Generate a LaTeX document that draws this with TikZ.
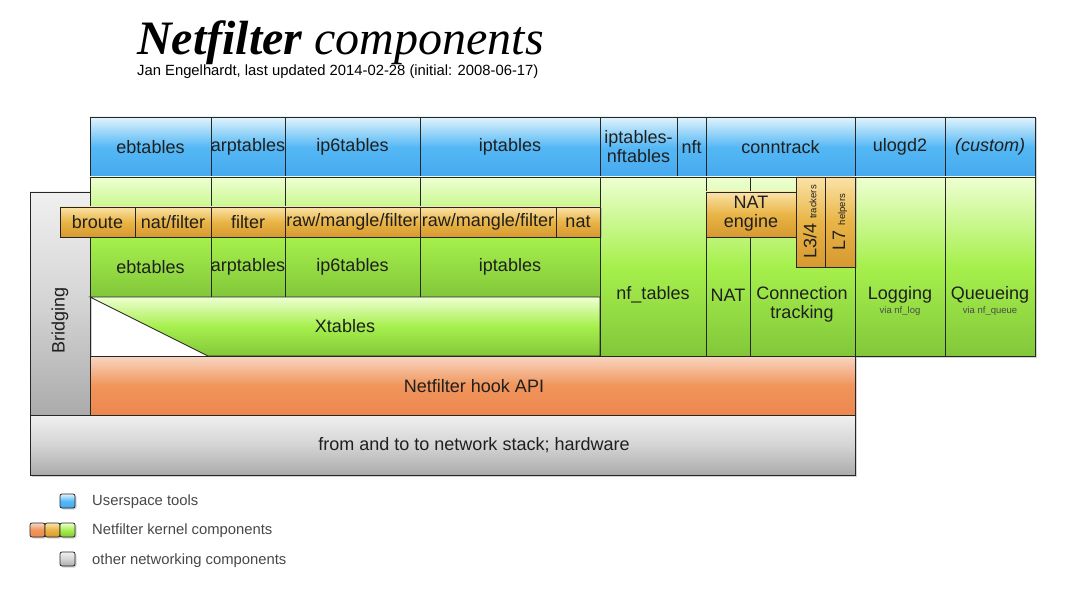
\documentclass[tikz,border=0pt]{standalone}
\usepackage{fontspec}
\setmainfont{Liberation Sans}
\newfontfamily\titlefont{Liberation Serif}
\usetikzlibrary{shadows}

\definecolor{blueTop}{HTML}{E2F4FD}
\definecolor{blueMid}{HTML}{55B8F5}
\definecolor{blueBot}{HTML}{46A9EE}
\definecolor{greenTop}{HTML}{EEFFD2}
\definecolor{greenMid}{HTML}{A6F04C}
\definecolor{greenBot}{HTML}{82C73A}
\definecolor{orangeTop}{HTML}{FAE3A8}
\definecolor{orangeMid}{HTML}{E9B445}
\definecolor{orangeBot}{HTML}{D69930}
\definecolor{redTop}{HTML}{F8D6C2}
\definecolor{redMid}{HTML}{F0955B}
\definecolor{redBot}{HTML}{EC8750}
\definecolor{grayTop}{HTML}{F0F0F0}
\definecolor{grayMid}{HTML}{D4D4D4}
\definecolor{grayBot}{HTML}{ABABAB}

\begin{document}
\begin{tikzpicture}[x=1pt,y=-1pt]
  \tikzstyle{cell} = [draw=black!85, line width=0.8pt, drop shadow={shadow xshift=1.5pt, shadow yshift=-1.5pt, opacity=.35}]
  \tikzstyle{user} = [cell, top color=blueTop, bottom color=blueBot, middle color=blueMid]
  \tikzstyle{kernel} = [cell, top color=greenTop, bottom color=greenBot, middle color=greenMid]
  \tikzstyle{table} = [cell, top color=orangeTop, bottom color=orangeBot, middle color=orangeMid]
  \tikzstyle{hook} = [cell, top color=redTop, bottom color=redBot, middle color=redMid]
  \tikzstyle{other} = [cell, top color=grayTop, bottom color=grayBot, middle color=grayMid]
  \tikzstyle{lbl} = [font=\fontsize{18}{19}\selectfont, text=black!88, align=center, inner sep=0pt]
  \tikzstyle{tiny} = [font=\fontsize{9.5}{10}\selectfont, text=black!70, inner sep=0pt]
  \tikzstyle{legend} = [font=\fontsize{14.8}{16}\selectfont, text=black!72, anchor=west, inner sep=0pt]

  \useasboundingbox (0,0) rectangle (1066,596);

  % title
  \node[anchor=base west, inner sep=0pt] (title) at (137,55)
    {\titlefont\fontsize{48}{50}\selectfont\itshape\bfseries Netfilter \mdseries components};
  \node[anchor=base west, inner sep=0pt, font=\fontsize{14.8}{16}\selectfont] (subtitle) at (137,76)
    {Jan Engelhardt, last updated 2014-02-28 (initial: 2008-06-17)};

  % bridging
  \draw[other] (30,192) rectangle (90,415);
  \node[lbl, rotate=90] (bridging) at (60,320) {Bridging};

  % userspace tools
  \foreach \xa/\xb/\name [count=\i] in {90/211/ebtables, 211/285/arptables, 285/420/ip6tables,
      420/600/iptables, 600/677/{iptables-\\nftables}, 677/706/nft, 706/855/conntrack,
      855/945/ulogd2, 945/1035/{\itshape (custom)}} {
    \draw[user] (\xa,117) rectangle (\xb,177);
    \node[lbl] (tool-\i) at ({(\xa+\xb)/2},147) {\name};
  }

  % xtables front ends
  \foreach \xa/\xb/\name [count=\i] in {90/211/ebtables, 211/285/arptables, 285/420/ip6tables, 420/600/iptables} {
    \draw[kernel] (\xa,177) rectangle (\xb,297);
    \node[lbl] (xt-\i) at ({(\xa+\xb)/2},267) {\name};
  }
  \draw[kernel] (90,297) -- (600,297) -- (600,356) -- (208,356) -- cycle;
  \node[lbl] (xtables) at (345,326) {Xtables};

  % nf_tables
  \draw[kernel] (600,177) rectangle (706,356);
  \node[lbl] (nftables) at (653,295) {nf\_tables};

  % conntrack
  \draw[kernel] (706,177) rectangle (855,356);
  \draw[black!85, line width=0.8pt] (750,177) -- (750,192) (750,237) -- (750,356);
  \node[lbl] (nat) at (728,295) {NAT};
  \node[lbl] (ct) at (802,304) {Connection\\tracking};

  % logging, queueing
  \draw[kernel] (855,177) rectangle (945,356);
  \node[lbl] (logging) at (900,295) {Logging};
  \node[tiny] (nflog) at (900,311) {via nf\_log};
  \draw[kernel] (945,177) rectangle (1035,356);
  \node[lbl] (queueing) at (990,295) {Queueing};
  \node[tiny] (nfqueue) at (990,311) {via nf\_queue};

  % tables
  \foreach \xa/\xb/\name [count=\i] in {60/135/broute, 135/211/{nat/filter}, 211/285/filter,
      285/420/{raw/mangle/filter}, 420/556/{raw/mangle/filter}, 556/600/nat} {
    \draw[table] (\xa,207) rectangle (\xb,237);
    \node[lbl] (tbl-\i) at ({(\xa+\xb)/2},222) {\name};
  }
  \draw[table] (706,192) rectangle (796,237);
  \node[lbl] (natengine) at (751,214) {NAT\\engine};
  \draw[table] (796,177) rectangle (825,267);
  \node[lbl, rotate=90] (l34) at (810,222) {L3/4 {\fontsize{9.5}{10}\selectfont trackers}};
  \draw[table] (825,177) rectangle (855,267);
  \node[lbl, rotate=90] (l7) at (840,222) {L7 {\fontsize{9.5}{10}\selectfont helpers}};

  % hook API and below
  \draw[hook] (90,356) rectangle (855,415);
  \node[lbl] (hookapi) at (474,386) {Netfilter hook API};
  \draw[other] (30,415) rectangle (855,475);
  \node[lbl] (stack) at (474,445) {from and to to network stack; hardware};

  % legend
  \draw[user, rounded corners=2pt] (60,494) rectangle (75,508);
  \node[legend] (leg-user) at (92,502) {Userspace tools};
  \draw[hook, rounded corners=2pt] (30,523) rectangle (45,537);
  \draw[table, rounded corners=2pt] (45,523) rectangle (60,537);
  \draw[kernel, rounded corners=2pt] (60,523) rectangle (75,537);
  \node[legend] (leg-kernel) at (92,531) {Netfilter kernel components};
  \draw[other, rounded corners=2pt] (60,552) rectangle (75,566);
  \node[legend] (leg-other) at (92,561) {other networking components};
\end{tikzpicture}
\end{document}
